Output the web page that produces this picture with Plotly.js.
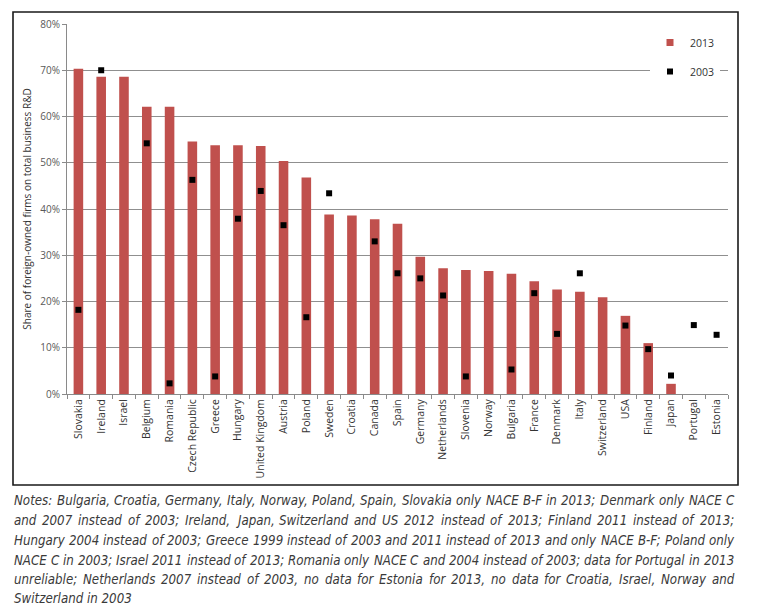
<!DOCTYPE html>
<html><head><meta charset="utf-8">
<script src="https://cdn.plot.ly/plotly-3.0.1.min.js"></script>
<style>html,body{margin:0;padding:0;background:#fff}</style>
</head><body><div id="chart" style="width:779px;height:613px"></div>
<script>
const countries = ['Slovakia','Ireland','Israel','Belgium','Romania','Czech Republic','Greece','Hungary','United Kingdom','Austria','Poland','Sweden','Croatia','Canada','Spain','Germany','Netherlands','Slovenia','Norway','Bulgaria','France','Denmark','Italy','Switzerland','USA','Finland','Japan','Portugal','Estonia'];
const share2013 = [70.3,68.6,68.6,62.1,62.1,54.6,53.8,53.8,53.6,50.4,46.8,38.8,38.6,37.8,36.8,29.7,27.2,26.8,26.6,26.0,24.4,22.6,22.1,20.9,16.9,11.0,2.2,null,null];
const share2003 = [18.2,70.0,null,54.2,2.3,46.3,3.8,37.9,43.9,36.5,16.6,43.4,null,33.0,26.1,25.0,21.3,3.8,null,5.3,21.8,13.0,26.1,null,14.8,9.7,4.0,14.9,12.8];
const yTickVals = [0,10,20,30,40,50,60,70,80];
const yTickText = ['0%','10%','20%','30%','40%','50%','60%','70%','80%'];
const seriesNames = ['2013','2003'];
const yTitle = 'Share of foreign-owned firms on total business R&D';
const notesLines = [
 'Notes: Bulgaria, Croatia, Germany, Italy, Norway, Poland, Spain, Slovakia only NACE B-F in 2013; Denmark only NACE C',
 'and 2007 instead of 2003; Ireland, Japan, Switzerland and US 2012 instead of 2013; Finland 2011 instead of 2013;',
 'Hungary 2004 instead of 2003; Greece 1999 instead of 2003 and 2011 instead of 2013 and only NACE B-F; Poland only',
 'NACE C in 2003; Israel 2011 instead of 2013; Romania only NACE C and 2004 instead of 2003; data for Portugal in 2013',
 'unreliable; Netherlands 2007 instead of 2003, no data for Estonia for 2013, no data for Croatia, Israel, Norway and',
 'Switzerland in 2003'
];

const W = 779, H = 613;
const M = {l: 67, r: 51, t: 24, b: 219};
const plotW = W - M.l - M.r, plotH = H - M.t - M.b;
const px2x = p => (p - M.l) / plotW;
const py2y = p => (H - M.b - p) / plotH;

const RED = '#C0504D';
const GRID = '#8f8f8f';
const AXIS = '#8a8a8a';

// font detection for notes
const cv = document.createElement('canvas').getContext('2d');
function measure(t, f) { cv.font = f; return cv.measureText(t).width; }
const probe = 'abcdefghijklmnopqrstuvwxyzABCDEFG0123';
function hasFont(name) {
  return ['monospace', 'serif'].every(g =>
    Math.abs(measure(probe, "20px '" + name + "', " + g) - measure(probe, '20px ' + g)) > 0.5);
}
const candidates = ['Liberation Sans Narrow', 'Arial Narrow', 'DejaVu Sans Condensed', 'Liberation Sans'];
let noteName = 'Liberation Sans';
for (const c of candidates) { if (hasFont(c)) { noteName = c; break; } }
const noteFamily = "'" + noteName + "'";
const noteLeft = 13, noteRight = 733;
// pick a size so the longest line fits the text width with normal spacing
const widest = Math.max(...notesLines.slice(0, 5).map(l => measure(l, 'italic 20px ' + noteFamily)));
const noteSize = Math.min(14, Math.floor(20 * (noteRight - noteLeft) / widest * 10) / 10);
const noteFont = 'italic ' + noteSize + 'px ' + noteFamily;
const lineY = [500, 520, 540, 560, 579, 598];

const annotations = [];
notesLines.forEach((line, i) => {
  const justify = i < notesLines.length - 1;
  if (!justify) {
    annotations.push({xref: 'paper', yref: 'paper', x: px2x(noteLeft), y: py2y(lineY[i]),
      xanchor: 'left', yanchor: 'middle', showarrow: false, borderpad: 0,
      text: '<i>' + line + '</i>', font: {family: noteFamily, size: noteSize, color: '#3a3a3a'}});
    return;
  }
  const words = line.split(' ');
  const widths = words.map(w => measure(w, noteFont));
  const sum = widths.reduce((a, b) => a + b, 0);
  const gap = (noteRight - noteLeft - sum) / (words.length - 1);
  let x = noteLeft;
  words.forEach((w, k) => {
    annotations.push({xref: 'paper', yref: 'paper', x: px2x(x), y: py2y(lineY[i]),
      xanchor: 'left', yanchor: 'middle', showarrow: false, borderpad: 0,
      text: '<i>' + w.replace(/&/g, '&amp;') + '</i>', font: {family: noteFamily, size: noteSize, color: '#3a3a3a'}});
    x += widths[k] + gap;
  });
});

const traces = [
  {type: 'bar', x: countries, y: share2013, name: seriesNames[0], showlegend: false,
   marker: {color: RED}, width: 0.42, hoverinfo: 'x+y'},
  {type: 'scatter', mode: 'markers', x: countries, y: share2003, name: seriesNames[1],
   marker: {symbol: 'square', size: 6, color: '#000'}, legendgroup: 'b', legendrank: 2},
  {type: 'scatter', mode: 'markers', x: [null], y: [null], name: seriesNames[0],
   marker: {symbol: 'square', size: 7, color: RED}, legendgroup: 'a', legendrank: 1, hoverinfo: 'skip'}
];

const layout = {
  width: W, height: H,
  margin: M,
  paper_bgcolor: '#fff', plot_bgcolor: '#fff',
  font: {family: "'Open Sans', sans-serif", color: '#333'},
  showlegend: true,
  legend: {x: px2x(650), y: py2y(28), xanchor: 'left', yanchor: 'top', bgcolor: '#fff',
    font: {size: 10.5, color: '#333'}, tracegroupgap: 10, itemwidth: 30, traceorder: 'grouped'},
  xaxis: {type: 'category', tickangle: -90, ticks: 'outside', tickson: 'boundaries', ticklen: 4,
    tickcolor: AXIS, showline: true, linecolor: AXIS, linewidth: 1, showgrid: false,
    tickfont: {size: 10.5, color: '#333'}, range: [-0.5, countries.length - 0.5]},
  yaxis: {range: [0, 80], tickvals: yTickVals, ticktext: yTickText, ticks: 'outside', ticklen: 4,
    tickcolor: AXIS, showline: true, linecolor: AXIS, linewidth: 1, gridcolor: GRID, gridwidth: 1,
    zeroline: false, tickfont: {size: 10, color: '#595959'},
    title: {text: yTitle, font: {size: 10, color: '#333'}, standoff: 6}},
  bargap: 0.58,
  shapes: [{type: 'rect', xref: 'paper', yref: 'paper', x0: px2x(13), x1: px2x(738), y0: py2y(485), y1: py2y(12),
    line: {color: '#1a1a1a', width: 1.6}, fillcolor: 'rgba(0,0,0,0)', layer: 'above'}],
  annotations: annotations
};

Plotly.newPlot('chart', traces, layout, {staticPlot: true, displayModeBar: false});
</script></body></html>
